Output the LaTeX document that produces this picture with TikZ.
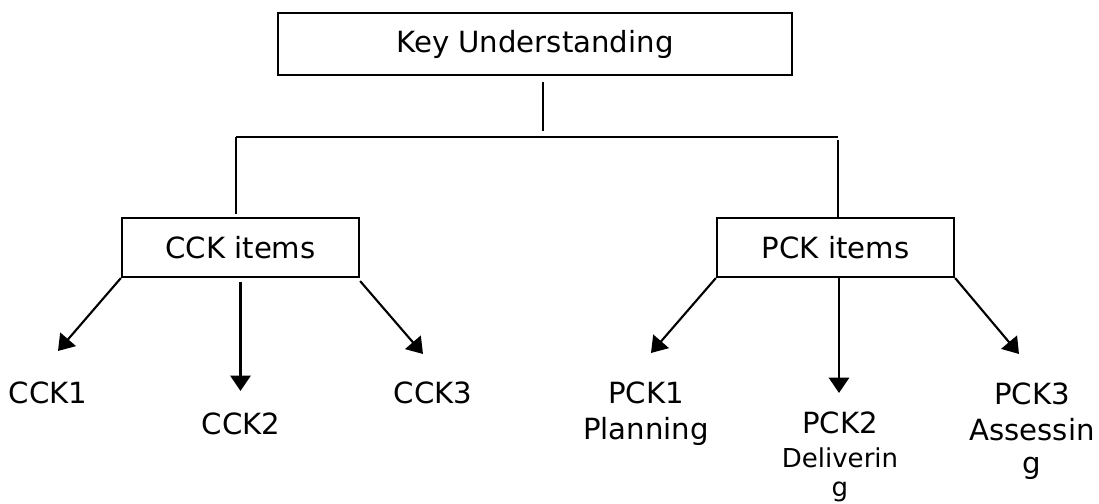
\documentclass[tikz,border=0pt]{standalone}
\usepackage{fontspec}
\setmainfont{DejaVu Sans}
\usetikzlibrary{arrows.meta}

\tikzset{
	box/.style={draw, line width=0.6pt, inner sep=0pt, font=\fontsize{8.3}{10.2}\selectfont},
	leaf/.style={align=center, inner sep=0pt, font=\fontsize{8.3}{10.2}\selectfont},
	link/.style={line width=0.6pt},
	arr/.style={line width=0.6pt, -{Triangle[length=4.4pt,width=5.8pt]}}
}
\newcommand{\smalltext}{\fontsize{7.4}{9.7}\selectfont}

\begin{document}
\begin{tikzpicture}[x=0.01cm, y=-0.01cm]
	\useasboundingbox (0,0) rectangle (1099,504);

	\node[box, minimum width=5.14cm, minimum height=0.62cm] (key) at (535,44) {Key Understanding};
	\node[box, minimum width=2.37cm, minimum height=0.59cm] (cck) at (240.5,247.5) {CCK items};
	\node[box, minimum width=2.37cm, minimum height=0.59cm] (pck) at (835.5,247.5) {PCK items};

	\node[leaf] (cck1) at (48,393) {CCK1};
	\node[leaf] (cck2) at (241,424) {CCK2};
	\node[leaf] (cck3) at (433,393) {CCK3};
	\node[leaf] (pck1) at (646,414) {PCK1\\Planning};
	\node[leaf] (pck2) at (840,457) {PCK2\\[-0.6pt]{\smalltext Deliverin}\\[-1.8pt]{\smalltext g}};
	\node[leaf] (pck3) at (1032,431) {PCK3\\Assessin\\[-0.8pt]g};

	\coordinate (stemtop) at (543,82);
	\coordinate (stembot) at (543,131);
	\coordinate (barL) at (236,137);
	\coordinate (barR) at (838,137);
	\draw[link] (stemtop) -- (stembot);
	\draw[link] (barL) -- (barR);
	\draw[link] (barL) -- ([yshift=0.03cm]cck.north -| barL);
	\draw[link] ([yshift=-0.03cm]barR) -- (pck.north -| barR);

	\coordinate (c1tip) at (58,351);
	\coordinate (c2tip) at (240.5,391);
	\coordinate (c3tip) at (423,354);
	\draw[arr] (cck.south west) -- (c1tip);
	\draw[arr] ([yshift=-0.04cm]cck.south) -- (c2tip);
	\draw[arr] ([yshift=-0.03cm]cck.south east) -- (c3tip);

	\coordinate (p1tip) at (651,353);
	\coordinate (p2tip) at (839,393);
	\coordinate (p3tip) at (1019,354);
	\draw[arr] (pck.south west) -- (p1tip);
	\draw[arr] (pck.south -| p2tip) -- (p2tip);
	\draw[arr] (pck.south east) -- (p3tip);
\end{tikzpicture}
\end{document}
